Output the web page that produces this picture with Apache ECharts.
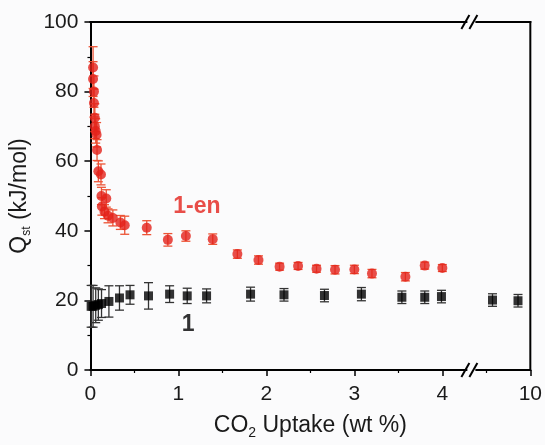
<!DOCTYPE html>
<html>
<head>
<meta charset="utf-8">
<script src="https://cdn.jsdelivr.net/npm/echarts@6/dist/echarts.min.js"></script>
<style>
  html, body { margin: 0; padding: 0; background: #fbfbfc; }
  #chart { width: 545px; height: 445px; }
</style>
</head>
<body>
<div id="chart"></div>
<script>
// CO2 uptake (wt %) and isosteric heat Qst (kJ/mol) with error half-widths
const enUptake = [0.03, 0.03, 0.04, 0.04, 0.05, 0.05, 0.06, 0.07, 0.075, 0.09, 0.12, 0.125, 0.18, 0.13, 0.16, 0.2, 0.255, 0.34, 0.39, 0.64, 0.88, 1.085, 1.39, 1.67, 1.91, 2.15, 2.36, 2.57, 2.78, 3.0, 3.2, 3.58, 3.8, 4.0];
const enQst    = [86.9, 83.6, 80.0, 76.7, 72.5, 70.0, 68.7, 67.6, 63.2, 57.1, 56.2, 50.0, 49.3, 47.0, 45.5, 44.3, 43.7, 42.4, 41.6, 40.9, 37.4, 38.5, 37.6, 33.3, 31.6, 29.7, 29.9, 29.1, 28.8, 28.9, 27.7, 26.8, 30.0, 29.3];
const enErr    = [6, 5, 4.5, 4, 4, 3.5, 3.5, 3.5, 3, 3, 3, 2.5, 2.5, 2.5, 2, 2, 2.3, 2, 2.6, 2, 1.8, 1.5, 1.5, 1.2, 1.2, 1, 1, 1, 1.2, 1.2, 1.2, 1.2, 1, 1];

const oneUptake = [0.008, 0.03, 0.06, 0.09, 0.126, 0.21, 0.33, 0.45, 0.66, 0.90, 1.10, 1.32, 1.82, 2.20, 2.66, 3.08, 3.54, 3.80, 3.99, 5.7, 8.6];
const oneQst    = [18.3, 18.3, 18.6, 18.8, 19.1, 19.7, 20.7, 21.6, 21.3, 21.8, 21.3, 21.3, 21.8, 21.6, 21.4, 21.8, 20.9, 20.9, 21.1, 20.1, 19.9];
const oneErr    = [6, 6, 5, 4.5, 4, 4.5, 3.5, 2.7, 3.8, 2.4, 2.2, 2, 2, 1.8, 1.8, 1.9, 1.8, 1.8, 1.8, 1.8, 1.8];

// x axis is broken after 4 wt %; the upper segment is compressed up to 10
const xTickValues = [0, 1, 2, 3, 4, 5];
const xTickLabels = ['0', '1', '2', '3', '4', '10'];
const yTicks = [0, 20, 40, 60, 80, 100];
const X_MIN = 0, X_MAX = 5, Y_MIN = 0, Y_MAX = 100;
const BREAK_AT = 4.33;

function axisX(x) {
  return x <= 4.3 ? x : 4.4 + (x - 4) * 0.1;
}

const BG = '#fbfbfc';
const RED = '#e3221a';
const RED_BAR = '#ec5436';
const FONT = 'Liberation Sans, Arial, sans-serif';

function errorBars(capHalf, color) {
  return function (params, api) {
    const x = api.value(0);
    const top = api.coord([x, api.value(2)]);
    const bot = api.coord([x, api.value(1)]);
    const style = { stroke: color, lineWidth: 1.3 };
    return {
      type: 'group',
      children: [
        { type: 'line', shape: { x1: top[0], y1: top[1], x2: bot[0], y2: bot[1] }, style },
        { type: 'line', shape: { x1: top[0] - capHalf, y1: top[1], x2: top[0] + capHalf, y2: top[1] }, style },
        { type: 'line', shape: { x1: bot[0] - capHalf, y1: bot[1], x2: bot[0] + capHalf, y2: bot[1] }, style }
      ]
    };
  };
}

// top and right edges of the plot frame as thin filled strips
function frameEdges(params, api) {
  const a = api.coord([X_MIN, Y_MAX]);
  const b = api.coord([X_MAX, Y_MAX]);
  const c = api.coord([X_MAX, Y_MIN]);
  return {
    type: 'group',
    children: [
      { type: 'rect', shape: { x: a[0] - 1, y: a[1] - 1, width: b[0] - a[0] + 2, height: 2 }, style: { fill: '#000' } },
      { type: 'rect', shape: { x: b[0] - 1, y: b[1] - 1, width: 2, height: c[1] - b[1] + 2 }, style: { fill: '#000' } }
    ]
  };
}

function breakMark(params, api) {
  const p = api.coord([api.value(0), api.value(1)]);
  const s = { stroke: '#000', lineWidth: 2 };
  return {
    type: 'group',
    children: [
      { type: 'rect', shape: { x: p[0] - 4, y: p[1] - 3, width: 8, height: 6 }, style: { fill: BG } },
      { type: 'line', shape: { x1: p[0] - 10, y1: p[1] + 7, x2: p[0] - 2, y2: p[1] - 7 }, style: s },
      { type: 'line', shape: { x1: p[0] - 2, y1: p[1] + 7, x2: p[0] + 6, y2: p[1] - 7 }, style: s }
    ]
  };
}

const enPoints = enUptake.map((x, i) => [axisX(x), enQst[i]]);
const enBars = enUptake.map((x, i) => [axisX(x), enQst[i] - enErr[i], enQst[i] + enErr[i]]);
const onePoints = oneUptake.map((x, i) => [axisX(x), oneQst[i]]);
const oneBars = oneUptake.map((x, i) => [axisX(x), oneQst[i] - oneErr[i], oneQst[i] + oneErr[i]]);

const chart = echarts.init(document.getElementById('chart'), null, { renderer: 'canvas' });

const axisLine = { show: true, onZero: false, lineStyle: { color: '#000', width: 2 } };

chart.setOption({
  backgroundColor: BG,
  animation: false,
  grid: { left: 90, right: 12, top: 22, bottom: 69 },
  xAxis: {
    type: 'value', min: X_MIN, max: X_MAX, interval: 1, position: 'bottom',
    name: '{t|CO}{s|2}{t| Uptake (wt %)}',
    nameLocation: 'middle', nameGap: 42,
    nameTextStyle: {
      rich: {
        t: { fontFamily: FONT, fontSize: 23, color: '#1a1a1a' },
        s: { fontFamily: FONT, fontSize: 14, color: '#1a1a1a', verticalAlign: 'bottom', padding: [14, 0, 0, 0] }
      }
    },
    axisLine: axisLine,
    axisTick: { length: 6, lineStyle: { color: '#000', width: 1.5 } },
    minorTick: { show: true, splitNumber: 2, length: 3, lineStyle: { color: '#000', width: 1.2 } },
    splitLine: { show: false },
    axisLabel: {
      fontFamily: FONT, fontSize: 21, color: '#1a1a1a', margin: 14,
      formatter: v => {
        const i = xTickValues.indexOf(v);
        return i >= 0 ? xTickLabels[i] : '';
      }
    }
  },
  yAxis: {
    type: 'value', min: Y_MIN, max: Y_MAX, interval: 20, position: 'left',
    name: '{t|Q}{s|st}{t| (kJ/mol)}',
    nameLocation: 'middle', nameGap: 55,
    nameTextStyle: {
      rich: {
        t: { fontFamily: FONT, fontSize: 23, color: '#1a1a1a' },
        s: { fontFamily: FONT, fontSize: 12, color: '#1a1a1a', verticalAlign: 'bottom', padding: [14, 0, 0, 0] }
      }
    },
    axisLine: axisLine,
    axisTick: { length: 6, lineStyle: { color: '#000', width: 1.5 } },
    minorTick: { show: true, splitNumber: 2, length: 3, lineStyle: { color: '#000', width: 1.2 } },
    splitLine: { show: false },
    axisLabel: {
      fontFamily: FONT, fontSize: 21, color: '#1a1a1a', margin: 12,
      formatter: v => (yTicks.indexOf(v) >= 0 ? String(v) : '')
    }
  },
  series: [
    {
      type: 'custom', name: 'frame', renderItem: frameEdges,
      data: [[BREAK_AT, Y_MAX]], encode: { x: 0, y: 1 },
      clip: false, z: 9, silent: true
    },
    {
      type: 'custom', name: '1-en error', renderItem: errorBars(4.5, RED_BAR),
      data: enBars, encode: { x: 0, y: [1, 2] }, z: 3
    },
    {
      type: 'custom', name: '1 error', renderItem: errorBars(4.5, '#333'),
      data: oneBars, encode: { x: 0, y: [1, 2] }, z: 3
    },
    {
      type: 'scatter', name: '1-en', data: enPoints,
      symbol: 'circle', symbolSize: 10,
      itemStyle: { color: RED }, z: 4
    },
    {
      type: 'scatter', name: '1', data: onePoints,
      symbol: 'rect', symbolSize: 9,
      itemStyle: { color: '#000' }, z: 4
    },
    {
      type: 'scatter', name: 'labels',
      data: [
        { value: [1.21, 46.9], label: { formatter: '1-en', color: RED } },
        { value: [1.11, 13.0], label: { formatter: '1', color: '#000' } }
      ],
      symbolSize: 1, itemStyle: { color: 'transparent' },
      label: { show: true, position: 'inside', fontFamily: FONT, fontSize: 23, fontWeight: 'bold' },
      z: 5, silent: true
    },
    {
      type: 'custom', name: 'axis break', renderItem: breakMark,
      data: [[BREAK_AT, Y_MIN], [BREAK_AT, Y_MAX]], encode: { x: 0, y: 1 },
      clip: false, z: 10, silent: true
    }
  ]
});
</script>
</body>
</html>
